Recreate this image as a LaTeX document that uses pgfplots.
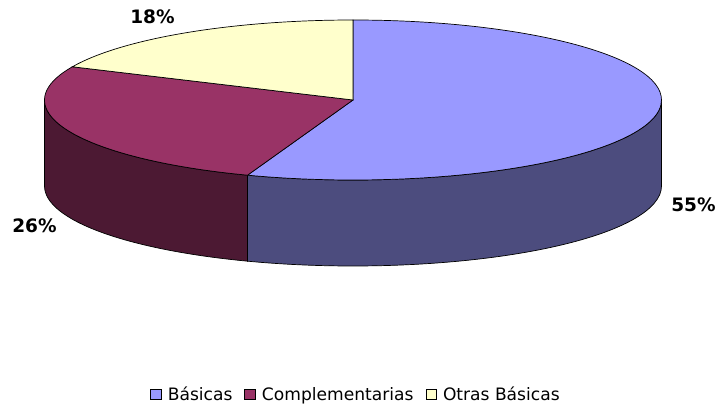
\documentclass[border=0pt]{standalone}
\usepackage{pgfplots}
\usepackage{pgfplotstable}
\pgfplotsset{compat=1.18}
\usepackage{fontspec}
\setmainfont{DejaVu Sans}
\definecolor{btop}{HTML}{9999FF}
\definecolor{bside}{HTML}{4C4C7E}
\definecolor{rtop}{HTML}{993366}
\definecolor{rside}{HTML}{4C1933}
\definecolor{ytop}{HTML}{FFFFCC}

\pgfplotstableread{
label value
Basicas 55
Complementarias 26
OtrasBasicas 18
}\piedata

\pgfplotstablegetelem{0}{value}\of\piedata \let\va\pgfplotsretval
\pgfplotstablegetelem{1}{value}\of\piedata \let\vb\pgfplotsretval
\pgfplotstablegetelem{2}{value}\of\piedata \let\vc\pgfplotsretval
\pgfmathsetmacro{\tot}{\va+\vb+\vc}
\pgfmathsetmacro{\aA}{90}
\pgfmathsetmacro{\aB}{90-360*(\va/\tot)}
\pgfmathsetmacro{\aC}{\aB-360*(\vb/\tot)}
\pgfmathsetmacro{\aD}{\aC-360*(\vc/\tot)}
\def\RX{308.5pt}
\def\RY{80pt}
\def\DEP{86pt}

\begin{document}
\begin{tikzpicture}
\begin{axis}[
  scale only axis, width=720pt, height=409pt,
  xmin=0, xmax=720, ymin=0, ymax=409, y dir=reverse,
  hide axis, clip=false,
  legend image code/.code={\filldraw[#1, line width=0.6pt] (0pt,-5.2pt) rectangle (10.4pt,5.2pt);},
  legend columns=3,
  legend style={draw=none, fill=none, at={(axis cs:355,394.5)}, anchor=center,
    font=\fontsize{17.1}{20}\selectfont,
    nodes={inner sep=0pt},
    /tikz/every odd column/.append style={column sep=6.5pt},
    /tikz/every even column/.append style={column sep=12pt}},
]
\path (axis cs:0,0) rectangle (axis cs:720,409);
% side walls
\filldraw[fill=bside, draw=black, line width=0.7pt]
  (axis cs:353,100) ++(0:\RX\space and \RY) arc[start angle=0, end angle=\aB, x radius=\RX, y radius=\RY]
  -- ++(0,-\DEP) arc[start angle=\aB, end angle=0, x radius=\RX, y radius=\RY] -- cycle;
\filldraw[fill=rside, draw=black, line width=0.7pt]
  (axis cs:353,100) ++(\aB:\RX\space and \RY) arc[start angle=\aB, end angle=-180, x radius=\RX, y radius=\RY]
  -- ++(0,-\DEP) arc[start angle=-180, end angle=\aB, x radius=\RX, y radius=\RY] -- cycle;
% top slices
\filldraw[fill=btop, draw=black, line width=0.7pt]
  (axis cs:353,100) -- ++(\aA:\RX\space and \RY) arc[start angle=\aA, end angle=\aB, x radius=\RX, y radius=\RY] -- cycle;
\filldraw[fill=rtop, draw=black, line width=0.7pt]
  (axis cs:353,100) -- ++(\aB:\RX\space and \RY) arc[start angle=\aB, end angle=\aC, x radius=\RX, y radius=\RY] -- cycle;
\filldraw[fill=ytop, draw=black, line width=0.7pt]
  (axis cs:353,100) -- ++(\aC:\RX\space and \RY) arc[start angle=\aC, end angle=\aD, x radius=\RX, y radius=\RY] -- cycle;
% labels
\node[font=\fontsize{18.5}{22}\selectfont\bfseries] at (axis cs:693.5,205) {55\%};
\node[font=\fontsize{18.5}{22}\selectfont\bfseries] at (axis cs:34.5,225.5) {26\%};
\node[font=\fontsize{18.5}{22}\selectfont\bfseries] at (axis cs:152.5,16.5) {18\%};
\addlegendimage{fill=btop, draw=black}
\addlegendentry{Básicas}
\addlegendimage{fill=rtop, draw=black}
\addlegendentry{Complementarias}
\addlegendimage{fill=ytop, draw=black}
\addlegendentry{Otras Básicas}
\end{axis}
\end{tikzpicture}
\end{document}
